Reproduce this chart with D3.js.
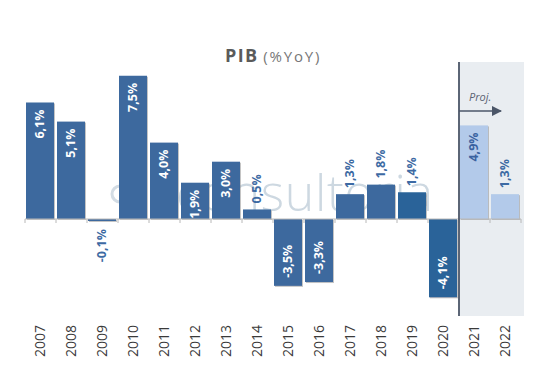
<!DOCTYPE html>
<html>
<head>
<meta charset="utf-8">
<script src="https://cdn.jsdelivr.net/npm/d3@7"></script>
<style>
  body { margin: 0; background: #fff; }
  svg { font-family: "Open Sans", sans-serif; }
</style>
</head>
<body>
<div id="viz"></div>
<script>
  var years = ["2007", "2008", "2009", "2010", "2011", "2012", "2013", "2014",
               "2015", "2016", "2017", "2018", "2019", "2020", "2021", "2022"];
  var values = [6.1, 5.1, -0.1, 7.5, 4.0, 1.9, 3.0, 0.5, -3.5, -3.3, 1.3, 1.8, 1.4, -4.1, 4.9, 1.3];
  var projYears = ["2021", "2022"];
  var darkYears = ["2019", "2020"];

  var width = 557, height = 373;
  var data = years.map(function(y, i) { return { year: y, v: values[i] }; });

  var svg = d3.select("#viz").append("svg")
    .attr("width", width).attr("height", height);

  var defs = svg.append("defs");
  var f = defs.append("filter").attr("id", "shadow")
    .attr("x", "-10%").attr("y", "-10%").attr("width", "130%").attr("height", "130%");
  f.append("feDropShadow").attr("dx", 1).attr("dy", 1).attr("stdDeviation", 0.6)
    .attr("flood-color", "#888").attr("flood-opacity", 0.5);

  var x = d3.scaleBand().domain(years).range([25, 521]).padding(0);
  var y = d3.scaleLinear().domain([-5, 8]).range([314.5, 66.2]);

  var fmt = function(v) { return v.toFixed(1).replace(".", ",") + "%"; };

  // projection zone
  var px = x(projYears[0]);
  svg.append("rect")
    .attr("x", px).attr("y", 62)
    .attr("width", x(projYears[1]) + x.bandwidth() + 3 - px)
    .attr("height", 254)
    .attr("fill", "#e9edf1");

  // watermark
  svg.append("circle").attr("cx", 120).attr("cy", 194).attr("r", 8)
    .attr("fill", "none").attr("stroke", "#d3dce4").attr("stroke-width", 3);
  svg.append("text")
    .attr("x", 176).attr("y", 211)
    .attr("font-size", 50).attr("font-weight", 300)
    .attr("textLength", 257)
    .attr("fill", "#cdd8e1")
    .text("consultoria");

  // bars
  var barColor = function(d) {
    if (projYears.indexOf(d.year) >= 0) return "#b3caea";
    if (darkYears.indexOf(d.year) >= 0) return "#2b6499";
    return "#3d699e";
  };

  svg.append("g").selectAll("rect").data(data).enter().append("rect")
    .attr("x", function(d) { return x(d.year) + 1; })
    .attr("width", x.bandwidth() - 3)
    .attr("y", function(d) { return Math.min(y(d.v), y(0)); })
    .attr("height", function(d) { return Math.max(Math.abs(y(d.v) - y(0)), 2); })
    .attr("fill", barColor)
    .attr("filter", "url(#shadow)");

  // baseline + ticks between categories
  var axisG = svg.append("g");
  axisG.append("line")
    .attr("x1", x.range()[0]).attr("x2", x.range()[1])
    .attr("y1", y(0)).attr("y2", y(0))
    .attr("stroke", "#b8b8b8").attr("stroke-width", 1);
  axisG.selectAll("line.tk").data(years.concat(["end"])).enter().append("line")
    .attr("class", "tk")
    .attr("x1", function(d, i) { return x.range()[0] + i * x.step(); })
    .attr("x2", function(d, i) { return x.range()[0] + i * x.step(); })
    .attr("y1", y(0)).attr("y2", y(0) + 4)
    .attr("stroke", "#b8b8b8");

  // divider
  svg.append("line")
    .attr("x1", px).attr("x2", px).attr("y1", 62).attr("y2", 316)
    .attr("stroke", "#4b5668").attr("stroke-width", 1.8);

  // projection arrow
  defs.append("marker").attr("id", "arr")
    .attr("viewBox", "0 0 10 10").attr("refX", 9).attr("refY", 5)
    .attr("markerWidth", 7).attr("markerHeight", 7).attr("orient", "auto")
    .append("path").attr("d", "M0,0L10,5L0,10z").attr("fill", "#4b5668");
  svg.append("line")
    .attr("x1", px).attr("x2", px + 42).attr("y1", 111).attr("y2", 111)
    .attr("stroke", "#4b5668").attr("stroke-width", 1.5)
    .attr("marker-end", "url(#arr)");
  svg.append("text")
    .attr("x", px + 10).attr("y", 101)
    .attr("font-size", 11).attr("font-style", "italic")
    .attr("fill", "#5a6373")
    .text("Proj.");

  // value labels
  var inside = function(d) { return Math.abs(d.v) >= 1.9; };
  svg.append("g").selectAll("text").data(data).enter().append("text")
    .attr("transform", function(d) {
      var cx = x(d.year) + x.bandwidth() / 2 + 3;
      var ty;
      if (d.v >= 0) ty = inside(d) ? y(d.v) + 7 : y(d.v) - 6;
      else ty = inside(d) ? y(d.v) - 8 : y(0) + 10;
      return "translate(" + cx + "," + ty + ") rotate(-90)";
    })
    .attr("text-anchor", function(d) {
      if (d.v >= 0) return inside(d) ? "end" : "start";
      return inside(d) ? "start" : "end";
    })
    .attr("font-size", 12.5).attr("font-weight", "bold")
    .attr("fill", function(d) {
      if (!inside(d)) return "#3d6aa3";
      if (projYears.indexOf(d.year) >= 0) return "#3a62a0";
      return "#fff";
    })
    .text(function(d) { return fmt(d.v); });

  // year labels
  svg.append("g").selectAll("text").data(years).enter().append("text")
    .attr("transform", function(d) {
      return "translate(" + (x(d) + x.bandwidth() / 2 + 4) + ",325) rotate(-90)";
    })
    .attr("text-anchor", "end")
    .attr("font-size", 14)
    .attr("fill", "#3a3a3a")
    .text(function(d) { return d; });

  // title
  var title = svg.append("text").attr("x", 225).attr("y", 62);
  title.append("tspan").attr("font-size", 18).attr("font-weight", "bold")
    .attr("fill", "#5a5a5a").attr("textLength", 32).text("PIB");
  title.append("tspan").attr("font-size", 15).attr("fill", "#777")
    .attr("dx", 5).attr("textLength", 56).text("(%YoY)");
</script>
</body>
</html>
